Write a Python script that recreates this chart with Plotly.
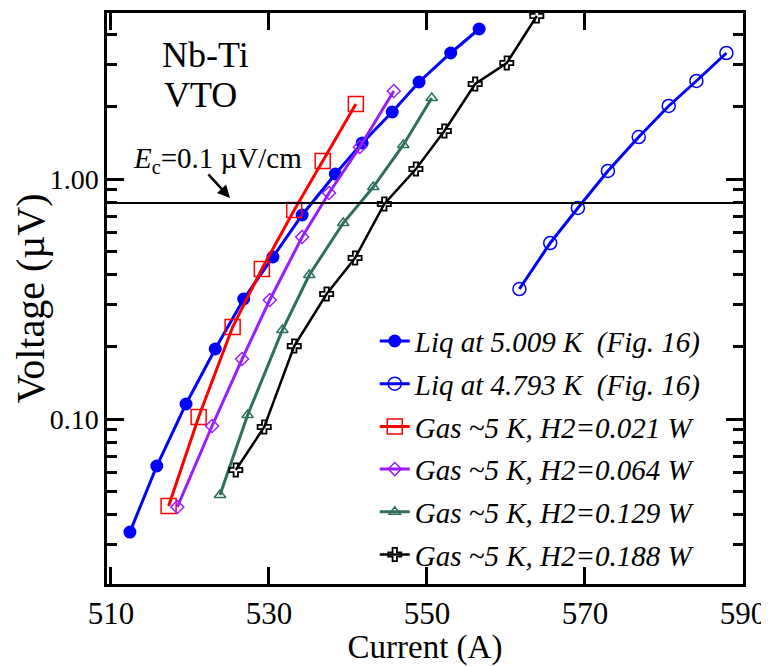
import plotly.graph_objects as go

# ---------------- data ----------------
liq_5009_current = [512.4, 515.8, 519.5, 523.2, 526.8, 530.5, 534.2, 538.4, 541.8, 545.6, 549.0, 553.0, 556.6]
liq_5009_voltage = [0.0338, 0.0637, 0.1155, 0.1957, 0.3162, 0.4732, 0.7079, 1.049, 1.413, 1.902, 2.536, 3.350, 4.217]

liq_4793_current = [561.7, 565.6, 569.1, 572.9, 576.8, 580.6, 584.1, 587.9]
liq_4793_voltage = [0.3480, 0.5412, 0.7572, 1.080, 1.496, 2.015, 2.561, 3.350]

gas_021_current = [517.3, 521.1, 525.4, 529.1, 533.2, 536.8, 541.0]
gas_021_voltage = [0.0434, 0.1019, 0.2417, 0.4217, 0.7427, 1.189, 2.054]

gas_064_current = [518.4, 522.8, 526.6, 530.1, 534.2, 537.6, 541.5, 545.8]
gas_064_voltage = [0.0430, 0.0935, 0.1778, 0.3133, 0.5731, 0.8743, 1.359, 2.326]

gas_129_current = [523.8, 527.3, 531.7, 535.1, 539.4, 543.2, 547.0, 550.6]
gas_129_voltage = [0.0482, 0.1039, 0.2348, 0.3981, 0.6554, 0.9261, 1.386, 2.175]

gas_188_current = [525.8, 529.4, 533.2, 537.3, 540.9, 544.6, 548.6, 552.2, 556.1, 560.1, 563.9]
gas_188_voltage = [0.0613, 0.0926, 0.2014, 0.3318, 0.4687, 0.7867, 1.101, 1.585, 2.488, 3.043, 4.777]

series_names = [
    "Liq at 5.009 K\u00a0\u00a0(Fig. 16)",
    "Liq at 4.793 K\u00a0\u00a0(Fig. 16)",
    "Gas ~5 K, H2=0.021 W",
    "Gas ~5 K, H2=0.064 W",
    "Gas ~5 K, H2=0.129 W",
    "Gas ~5 K, H2=0.188 W",
]

ec_voltage = 0.794          # criterion level (Ec = 0.1 uV/cm)
x_tick_values = [510, 530, 550, 570, 590]
x_tick_labels = ["510", "530", "550", "570", "590"]
y_tick_values = [0.1, 1.0]
y_tick_labels = ["0.10", "1.00"]
y_minor_values = [0.03, 0.04, 0.05, 0.06, 0.07, 0.08, 0.09,
                  0.2, 0.3, 0.4, 0.5, 0.6, 0.7, 0.8, 0.9, 2, 3, 4]

# ---------------- figure ----------------
FONT = "Liberation Serif, Times New Roman, serif"
fig = go.Figure()

styles = [
    dict(color="#0000ff", symbol="circle", size=13, lw=3.0, mlw=0),
    dict(color="#0000ff", symbol="circle-open", size=13, lw=3.0, mlw=1.5),
    dict(color="#ff0000", symbol="square-open", size=15, lw=3.0, mlw=1.5),
    dict(color="#9a1cff", symbol="diamond-open", size=10, lw=3.0, mlw=1.5),
    dict(color="#2f6f5f", symbol="triangle-up-open", size=10, lw=3.0, mlw=1.5),
    dict(color="#000000", symbol="cross-open", size=11, lw=2.5, mlw=1.8),
]
data = [
    (liq_5009_current, liq_5009_voltage),
    (liq_4793_current, liq_4793_voltage),
    (gas_021_current, gas_021_voltage),
    (gas_064_current, gas_064_voltage),
    (gas_129_current, gas_129_voltage),
    (gas_188_current, gas_188_voltage),
]

for i, ((xs, ys), st, name) in enumerate(zip(data, styles, series_names)):
    fig.add_trace(go.Scatter(
        x=xs, y=ys, mode="lines+markers", name=name,
        legendgroup=f"g{i}",
        line=dict(color=st["color"], width=st["lw"]),
        marker=dict(symbol=st["symbol"], size=st["size"], color=st["color"],
                    line=dict(color=st["color"], width=st["mlw"])),
    ))

# Ec criterion line
fig.add_hline(y=ec_voltage, line=dict(color="black", width=2))

axis_common = dict(
    showline=True, linecolor="black", linewidth=2.5, mirror="ticks",
    ticks="inside", tickcolor="black", tickwidth=2.5, ticklen=17,
    showgrid=False, zeroline=False, automargin=False,
)

fig.update_xaxes(
    range=[509.5, 590], tickmode="array", tickvals=x_tick_values, ticktext=x_tick_labels,
    tickfont=dict(family=FONT, size=31, color="black"),
    title=dict(text="Current (A)", font=dict(family=FONT, size=33, color="black"), standoff=0),
    **axis_common,
)
fig.update_yaxes(
    type="log", range=[-1.6875, 0.6917], tickmode="array",
    tickvals=y_tick_values, ticktext=y_tick_labels,
    tickfont=dict(family=FONT, size=28, color="black"),
    minor=dict(tickmode="array", tickvals=y_minor_values, ticks="inside",
               ticklen=10, tickwidth=2.5, tickcolor="black", showgrid=False),
    title=dict(text="Voltage (\u00b5V)", font=dict(family=FONT, size=40, color="black"), standoff=0),
    **axis_common,
)

fig.add_annotation(text="Nb-Ti", xref="paper", yref="paper", x=0.083, y=0.926,
                   xanchor="left", yanchor="middle", showarrow=False,
                   font=dict(family=FONT, size=36, color="black"))
fig.add_annotation(text="VTO", xref="paper", yref="paper", x=0.086, y=0.856,
                   xanchor="left", yanchor="middle", showarrow=False,
                   font=dict(family=FONT, size=36, color="black"))
fig.add_annotation(text="<i>E</i><sub>c</sub>=0.1 \u00b5V/cm", xref="paper", yref="paper",
                   x=0.038, y=0.742, xanchor="left", yanchor="middle", showarrow=False,
                   font=dict(family=FONT, size=29, color="black"))
fig.add_annotation(text="", x=525.07, y=-0.079, xref="x", yref="y",
                   showarrow=True, ax=-23, ay=-25, arrowhead=2, arrowsize=1,
                   arrowwidth=2.5, arrowcolor="black")

# the page body adds an 8 px offset, so the figure is sized/margined to compensate
fig.update_layout(
    width=761, height=658,
    margin=dict(l=99, r=26, t=5, b=82),
    paper_bgcolor="white", plot_bgcolor="white",
    showlegend=True,
    legend=dict(x=0.421, y=0.47, xanchor="left", yanchor="top",
                bgcolor="rgba(0,0,0,0)", tracegroupgap=2,
                font=dict(family=FONT, size=29, color="black", style="italic")),
)

fig.write_html("out.html")
